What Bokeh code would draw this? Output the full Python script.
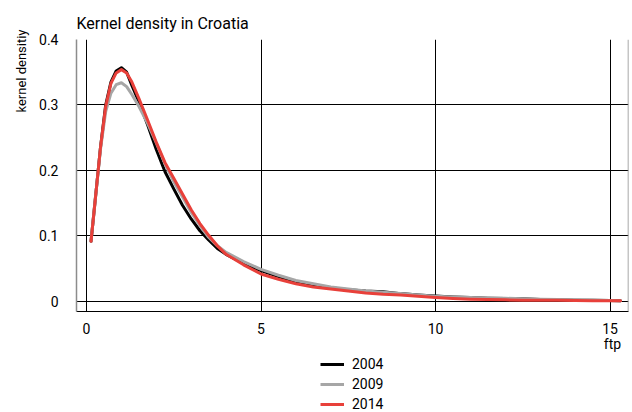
from bokeh.plotting import figure
from bokeh.layouts import column
from bokeh.models import Range1d, FixedTicker, Legend, LegendItem, Span, Title, Label
from bokeh.embed import file_html
from bokeh.resources import INLINE

# ---- data ----
x_vals = [0.13, 0.25, 0.4, 0.55, 0.7, 0.85, 1.0, 1.15, 1.3, 1.5, 1.75, 2.0, 2.25, 2.5,
          2.75, 3.0, 3.25, 3.5, 3.75, 4.0, 4.5, 5.0, 5.5, 6.0, 6.5, 7.0, 7.5, 8.0, 8.5,
          9.0, 9.5, 10.0, 10.5, 11.0, 11.5, 12.0, 12.5, 13.0, 13.5, 14.0, 14.5, 15.0, 15.3]

dens_2004 = [0.092, 0.155, 0.235, 0.300, 0.335, 0.352, 0.357, 0.350, 0.330, 0.305, 0.270,
             0.232, 0.198, 0.172, 0.147, 0.126, 0.108, 0.094, 0.081, 0.072, 0.058, 0.047,
             0.038, 0.030, 0.025, 0.021, 0.018, 0.016, 0.015, 0.012, 0.010, 0.0085, 0.007,
             0.006, 0.005, 0.0045, 0.004, 0.003, 0.0025, 0.002, 0.0018, 0.0015, 0.0012]

dens_2009 = [0.092, 0.155, 0.232, 0.290, 0.318, 0.331, 0.334, 0.328, 0.316, 0.298, 0.272,
             0.242, 0.210, 0.183, 0.160, 0.136, 0.116, 0.098, 0.085, 0.075, 0.061, 0.049,
             0.040, 0.032, 0.027, 0.022, 0.019, 0.016, 0.014, 0.012, 0.010, 0.008, 0.007,
             0.006, 0.0055, 0.005, 0.004, 0.0035, 0.003, 0.0025, 0.002, 0.0015, 0.0012]

dens_2014 = [0.092, 0.155, 0.235, 0.298, 0.333, 0.349, 0.354, 0.349, 0.335, 0.310, 0.277,
             0.243, 0.212, 0.188, 0.164, 0.140, 0.119, 0.101, 0.085, 0.072, 0.056, 0.042,
             0.034, 0.027, 0.022, 0.019, 0.016, 0.013, 0.011, 0.010, 0.008, 0.006, 0.0045,
             0.0035, 0.003, 0.0025, 0.002, 0.002, 0.0018, 0.0015, 0.0012, 0.001, 0.001]

series_names = ["2004", "2009", "2014"]
series_colors = ["#000000", "#a6a6a6", "#e8403a"]
series_values = [dens_2004, dens_2009, dens_2014]

x_ticks = [0, 5, 10, 15]
x_tick_labels = ["0", "5", "10", "15"]
y_ticks = [0, 0.1, 0.2, 0.3, 0.4]
y_tick_labels = ["0", "0.1", "0.2", "0.3", "0.4"]

title_text = "Kernel density in Croatia"
y_label_text = "kernel densitiy"
x_label_text = "ftp"

FONT = "Roboto"

x_start, x_end = -0.2865, 15.53
y_start, y_end = -0.0153, 0.4

BORDER_L, BORDER_R = 76, 4
FRAME_W = 552

# ---------------- main chart ----------------
p = figure(frame_width=FRAME_W, frame_height=272, output_backend="svg", toolbar_location=None,
           x_range=Range1d(x_start, x_end), y_range=Range1d(y_start, y_end),
           min_border_left=BORDER_L, min_border_right=BORDER_R, min_border_top=39,
           min_border_bottom=25)

p.title.text = title_text
p.title.text_font = FONT
p.title.text_font_size = "16px"
p.title.text_font_style = "normal"
p.title.text_color = "black"
p.title.align = "left"
p.title.standoff = 14

p.outline_line_color = None
p.background_fill_color = "white"
p.border_fill_color = "white"

for ax in (p.xaxis[0], p.yaxis[0]):
    ax.major_tick_line_color = None
    ax.minor_tick_line_color = None
    ax.major_label_text_font = FONT
    ax.major_label_text_font_size = "14px"
    ax.major_label_text_color = "black"

p.xaxis.ticker = FixedTicker(ticks=x_ticks)
p.xaxis.major_label_overrides = dict(zip(x_ticks, x_tick_labels))
p.xaxis.axis_line_color = "black"
p.xaxis.axis_line_width = 1.2
p.xaxis.major_label_standoff = 5

p.yaxis.ticker = FixedTicker(ticks=y_ticks)
p.yaxis.major_label_overrides = dict(zip(y_ticks, y_tick_labels))
p.yaxis.axis_line_color = "#8c8c8c"
p.yaxis.axis_line_width = 1.5
p.yaxis.major_label_standoff = 12

p.xgrid.ticker = FixedTicker(ticks=x_ticks)
p.ygrid.ticker = FixedTicker(ticks=y_ticks)
for g in (p.xgrid[0], p.ygrid[0]):
    g.grid_line_color = "black"
    g.grid_line_width = 1
    g.grid_line_alpha = 1

p.add_layout(Span(location=x_end, dimension="height", line_color="#8c8c8c", line_width=1.5))

for name, ys, col in zip(series_names, series_values, series_colors):
    p.line(x_vals, ys, line_color=col, line_width=3, line_join="round", line_cap="round")

p.add_layout(Title(text=y_label_text, align="right", offset=-10, standoff=16,
                   text_font=FONT, text_font_size="13px", text_font_style="normal",
                   text_color="black"), "left")

# ---------------- strip below: axis title + legend ----------------
# strip coordinates are page pixels: x from the page's left edge, y up from the strip bottom
STRIP_H = 76
q = figure(frame_width=FRAME_W, frame_height=STRIP_H, output_backend="svg", toolbar_location=None,
           title_location=None, x_axis_type=None, y_axis_type=None,
           x_range=Range1d(BORDER_L, BORDER_L + FRAME_W), y_range=Range1d(0, STRIP_H),
           min_border_left=BORDER_L, min_border_right=BORDER_R, min_border_top=0, min_border_bottom=0)
q.outline_line_color = None
q.xgrid.visible = False
q.ygrid.visible = False
q.background_fill_color = "white"
q.border_fill_color = "white"

q.add_layout(Label(x=612, y=69, text=x_label_text, text_align="center", text_baseline="middle",
                   text_font=FONT, text_font_size="14px", text_color="black"))

# legend swatch renderers (hidden; they only supply the legend's line styles)
leg_renderers = [q.line(x_vals, ys, line_color=col, line_width=3, visible=False)
                 for ys, col in zip(series_values, series_colors)]
legend = Legend(items=[LegendItem(label=n, renderers=[r]) for n, r in zip(series_names, leg_renderers)],
                location=(320 - BORDER_L, -2), orientation="vertical",
                glyph_width=24, glyph_height=20, label_height=20, spacing=0,
                label_standoff=8, padding=0, margin=0,
                border_line_color=None, background_fill_alpha=0, inactive_fill_alpha=0,
                label_text_font=FONT, label_text_font_size="14px", label_text_color="black")
q.add_layout(legend)

layout = column(p, q, spacing=0)
open("out.html", "w").write(file_html(layout, INLINE))
